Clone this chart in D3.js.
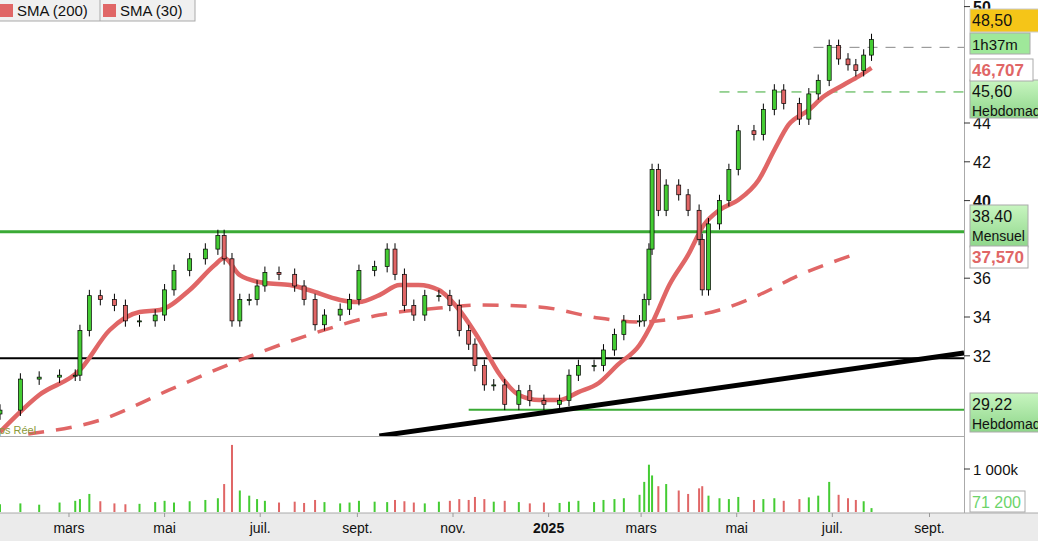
<!DOCTYPE html>
<html><head><meta charset="utf-8">
<script src="https://cdn.jsdelivr.net/npm/d3@7"></script>
<style>body{margin:0;background:#fff;font-family:Arial,"Liberation Sans",sans-serif}</style>
</head><body>
<svg id="chart" width="1038" height="541"></svg>
<script>
// price samples (date, close)
const dates = ["2024-01-17","2024-01-30","2024-02-11","2024-02-24","2024-03-05","2024-03-08","2024-03-14","2024-03-21","2024-03-30","2024-04-06","2024-04-15","2024-04-25","2024-05-01","2024-05-07","2024-05-17","2024-05-27","2024-06-04","2024-06-08","2024-06-13","2024-06-18","2024-06-24","2024-06-29","2024-07-04","2024-07-13","2024-07-23","2024-07-29","2024-08-05","2024-08-11","2024-08-21","2024-08-27","2024-09-02","2024-09-12","2024-09-20","2024-09-25","2024-10-01","2024-10-07","2024-10-14","2024-10-23","2024-10-30","2024-11-05","2024-11-11","2024-11-15","2024-11-21","2024-11-27","2024-12-04","2024-12-13","2024-12-20","2024-12-29","2025-01-08","2025-01-14","2025-01-20","2025-01-30","2025-02-05","2025-02-12","2025-02-18","2025-02-28","2025-03-03","2025-03-06","2025-03-08","2025-03-12","2025-03-17","2025-03-25","2025-03-31","2025-04-07","2025-04-09","2025-04-13","2025-04-20","2025-04-26","2025-05-02","2025-05-12","2025-05-18","2025-05-25","2025-05-31","2025-06-10","2025-06-16","2025-06-22","2025-06-29","2025-07-05","2025-07-11","2025-07-16","2025-07-21","2025-07-26"];
const closes = [29.2,30.8,30.9,31.0,31.0,33.3,35.1,34.9,34.6,33.8,33.8,34.1,35.4,36.4,37.0,37.5,38.2,37.0,33.8,34.9,34.9,35.6,36.3,36.2,35.6,34.9,33.6,34.1,34.4,34.9,36.4,36.6,37.5,36.2,34.6,34.1,35.1,35.1,34.6,33.3,32.6,31.5,30.5,30.5,29.5,30.2,29.7,29.5,29.7,31.0,31.5,31.5,32.3,33.1,33.8,33.8,34.9,37.5,41.6,39.5,40.8,40.3,39.5,38.0,35.4,38.8,40.0,41.6,43.6,43.4,44.7,45.7,45.0,44.2,45.5,46.2,48.0,47.3,47.0,46.7,47.5,48.3];
const volumes = [180,200,170,220,260,300,420,250,200,180,190,230,260,220,250,280,320,650,1560,500,380,300,260,220,240,210,280,230,200,220,260,240,230,280,250,220,200,240,260,300,280,350,300,240,260,230,200,220,210,240,260,230,280,300,320,400,700,1100,850,600,650,500,420,550,600,380,320,300,350,280,300,320,260,300,340,380,700,400,320,280,250,90];
// moving averages
const sma30Dates = ["2024-01-17","2024-02-11","2024-03-08","2024-03-27","2024-04-15","2024-04-28","2024-05-17","2024-06-02","2024-06-08","2024-06-18","2024-07-04","2024-07-20","2024-08-01","2024-08-21","2024-09-02","2024-09-15","2024-09-28","2024-10-10","2024-10-23","2024-11-05","2024-11-18","2024-12-01","2024-12-13","2024-12-26","2025-01-08","2025-01-20","2025-02-02","2025-02-14","2025-02-28","2025-03-09","2025-03-19","2025-03-31","2025-04-10","2025-04-20","2025-05-02","2025-05-15","2025-05-25","2025-06-03","2025-06-16","2025-06-25","2025-07-08","2025-07-18","2025-07-26"];
const sma30 = [28.07,29.98,31.27,33.33,34.26,34.36,35.39,36.68,37.04,36.16,35.75,35.65,35.39,34.88,34.77,35.13,35.65,35.65,35.39,34.36,32.81,31.01,29.98,29.72,29.72,30.13,30.60,31.53,32.56,33.85,35.65,37.20,38.74,39.52,40.03,41.06,42.61,43.90,44.67,45.34,45.96,46.42,46.84];
const sma200Dates = ["2024-02-04","2024-03-21","2024-05-04","2024-06-18","2024-08-01","2024-09-15","2024-10-23","2024-11-18","2024-12-26","2025-02-02","2025-02-28","2025-03-25","2025-04-20","2025-05-15","2025-06-10","2025-07-05","2025-07-18"];
const sma200 = [27.97,28.69,30.24,31.78,33.07,34.10,34.46,34.62,34.52,33.95,33.74,33.95,34.36,35.13,36.16,36.94,37.30];
const priceTicks = [50,44,42,40,36,34,32];
const monthTicks = [["2024-03-01","mars"],["2024-05-01","mai"],["2024-07-01","juil."],["2024-09-01","sept."],["2024-11-01","nov."],["2025-01-01","2025"],["2025-03-01","mars"],["2025-05-01","mai"],["2025-07-01","juil."],["2025-09-01","sept."]];

const P = d3.timeParse("%Y-%m-%d");
const W = 964, priceBottom = 436, volTop = 437, volBottom = 512;
const svg = d3.select("#chart");
const x = d3.scaleTime().domain([P("2024-01-17"), P("2025-09-23")]).range([0, W]);
const y = d3.scaleLinear().domain([30, 50]).range([394.6, 6.6]);
const yv = d3.scaleLinear().domain([0, 1000]).range([volBottom, 469]);
const red = "#e06666", green = "#44cc33";

const clip = svg.append("clipPath").attr("id","pc").append("rect").attr("width",W).attr("height",priceBottom);
const g = svg.append("g").attr("clip-path","url(#pc)");

// horizontal levels
g.append("line").attr("x1",0).attr("x2",W).attr("y1",y(38.4)).attr("y2",y(38.4)).attr("stroke","#3aaa35").attr("stroke-width",3);
g.append("line").attr("x1",0).attr("x2",W).attr("y1",y(31.88)).attr("y2",y(31.88)).attr("stroke","#000").attr("stroke-width",2);
g.append("line").attr("x1",x(P("2024-11-11"))).attr("x2",W).attr("y1",y(29.22)).attr("y2",y(29.22)).attr("stroke","#3aaa35").attr("stroke-width",2);
g.append("line").attr("x1",x(P("2025-04-20"))).attr("x2",W+74).attr("y1",y(45.6)).attr("y2",y(45.6)).attr("stroke","#3aaa35").attr("stroke-dasharray","10,8");
g.append("line").attr("x1",x(P("2025-06-19"))).attr("x2",W+74).attr("y1",y(47.9)).attr("y2",y(47.9)).attr("stroke","#888").attr("stroke-dasharray","10,8");
g.append("line").attr("x1",x(P("2024-09-15"))).attr("x2",W).attr("y1",y(27.87)).attr("y2",y(32.14)).attr("stroke","#000").attr("stroke-width",5);

// moving averages
const line = d3.line().curve(d3.curveMonotoneX);
g.append("path").attr("d", line(sma200Dates.map((d,i)=>[x(P(d)), y(sma200[i])])))
  .attr("fill","none").attr("stroke",red).attr("stroke-width",3.5).attr("stroke-dasharray","16,12");
g.append("path").attr("d", line(sma30Dates.map((d,i)=>[x(P(d)), y(sma30[i])])))
  .attr("fill","none").attr("stroke",red).attr("stroke-width",4.5).attr("stroke-linejoin","round");

// candles
const candles = dates.map((d,i)=>({d:P(d), o: i ? closes[i-1] : closes[i]-0.2, c: closes[i], v: volumes[i]}));
const cg = g.selectAll(".c").data(candles).enter().append("g");
cg.append("line").attr("x1",d=>x(d.d)).attr("x2",d=>x(d.d))
  .attr("y1",d=>y(Math.max(d.o,d.c)+0.3)).attr("y2",d=>y(Math.min(d.o,d.c)-0.3)).attr("stroke","#000");
cg.append("rect").attr("x",d=>x(d.d)-2).attr("width",4)
  .attr("y",d=>y(Math.max(d.o,d.c))).attr("height",d=>Math.max(1,Math.abs(y(d.o)-y(d.c))))
  .attr("fill",d=>d.c>=d.o?green:red).attr("stroke","#000").attr("stroke-width",0.7);

svg.append("text").attr("x",-22).attr("y",434).attr("font-size",11).attr("fill","#8a9a3a").text("Temps Réel");

// panels
svg.append("line").attr("x1",0).attr("x2",W).attr("y1",priceBottom+0.5).attr("y2",priceBottom+0.5).attr("stroke","#aaa");
svg.append("line").attr("x1",W+0.5).attr("x2",W+0.5).attr("y1",0).attr("y2",513).attr("stroke","#aaa");

// volume
svg.selectAll(".v").data(candles).enter().append("rect")
  .attr("x",d=>x(d.d)-1).attr("width",2).attr("y",d=>yv(d.v)).attr("height",d=>volBottom-yv(d.v))
  .attr("fill",d=>d.c>=d.o?green:red);

// bottom axis
svg.append("rect").attr("x",0).attr("y",513).attr("width",1038).attr("height",28).attr("fill","#ebebeb");
svg.append("line").attr("x1",0).attr("x2",1038).attr("y1",513).attr("y2",513).attr("stroke","#aaa");
monthTicks.forEach(([d,l])=>{
  const xx = x(P(d));
  svg.append("line").attr("x1",xx).attr("x2",xx).attr("y1",513).attr("y2",517).attr("stroke","#999");
  svg.append("text").attr("x",xx).attr("y",533).attr("text-anchor","middle").attr("font-size",14)
    .attr("font-weight",l==="2025"?"bold":"normal").attr("fill","#111").text(l);
});

// right price axis
priceTicks.forEach(p=>{
  svg.append("line").attr("x1",W).attr("x2",W+6).attr("y1",y(p)).attr("y2",y(p)).attr("stroke","#333");
  svg.append("text").attr("x",W+9).attr("y",y(p)+6).attr("font-size",16).attr("fill","#111")
    .attr("font-weight",p===50||p===40?"bold":"normal").text(p);
});
svg.append("line").attr("x1",W).attr("x2",W+6).attr("y1",yv(1000)).attr("y2",yv(1000)).attr("stroke","#333");
svg.append("text").attr("x",W+9).attr("y",yv(1000)+6).attr("font-size",15).attr("fill","#111").text("1 000k");

function box(yTop, h, w, fill, stroke, lines, color, size, bold){
  const b = svg.append("g");
  b.append("rect").attr("x",W+6).attr("y",yTop).attr("width",w).attr("height",h).attr("fill",fill).attr("stroke",stroke);
  lines.forEach((t,i)=>b.append("text").attr("x",W+8).attr("y",yTop+17+i*19).attr("font-size",i?14:size)
    .attr("font-weight",bold?"bold":"normal").attr("fill",color).text(t));
}
const gg = "url(#gg)";
const defs = svg.append("defs").append("linearGradient").attr("id","gg").attr("x2",0).attr("y2",1);
defs.append("stop").attr("offset",0).attr("stop-color","#c8f5c0");
defs.append("stop").attr("offset",1).attr("stop-color","#8ed68a");
box(9,23,80,"#f5c518","#ccc",["48,50"],"#111",16,false);
box(80,38,80,gg,"#aaa",["45,60","Hebdomadaire"],"#111",16,false);
box(33,21,60,"#9fe89a","#aaa",["1h37m"],"#111",15,false);
box(59,22,63,"#fff","#aaa",["46,707"],red,17,true);
box(205,42,58,gg,"#aaa",["38,40","Mensuel"],"#111",16,false);
box(246,22,58,"#fff","#aaa",["37,570"],red,17,true);
box(393,39,80,gg,"#aaa",["29,22","Hebdomadaire"],"#111",16,false);
box(491,21,55,"#fff","#aaa",["71 200"],"#6cd46a",16,false);

// legend
const lg = svg.append("g");
lg.append("rect").attr("x",-5).attr("y",-1).attr("width",200).attr("height",22).attr("fill","#f0f0f0").attr("stroke","#aaa");
lg.append("line").attr("x1",100).attr("x2",100).attr("y1",0).attr("y2",21).attr("stroke","#aaa");
[["SMA (200)",0],["SMA (30)",103]].forEach(([t,xx])=>{
  lg.append("rect").attr("x",xx).attr("y",4).attr("width",13).attr("height",13).attr("fill",red);
  lg.append("text").attr("x",xx+17).attr("y",16).attr("font-size",15).attr("fill","#111").text(t);
});
</script>
</body></html>
